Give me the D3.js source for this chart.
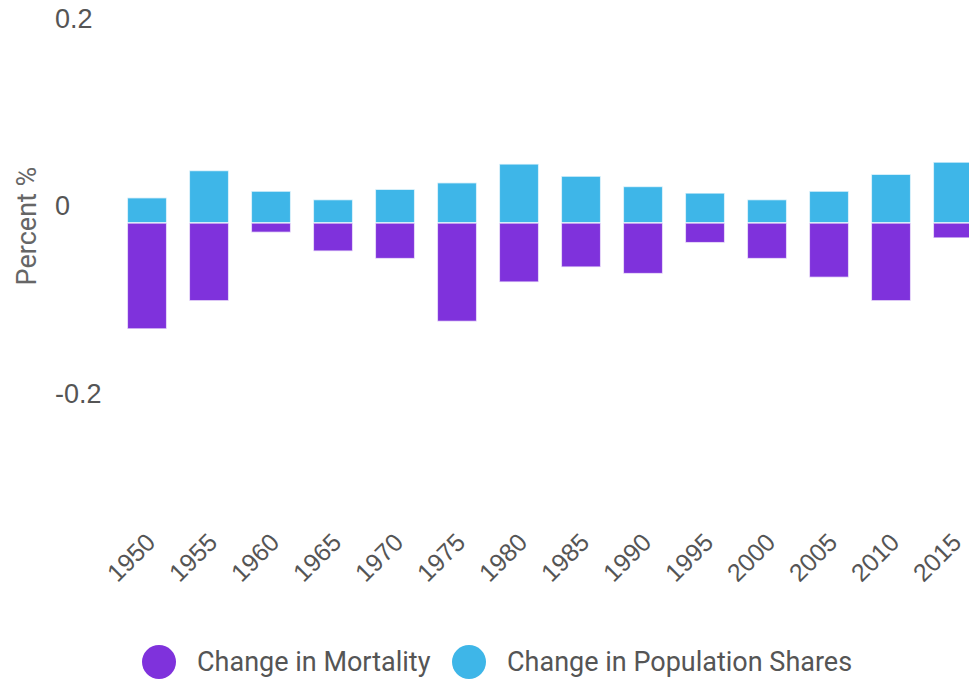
<!DOCTYPE html>
<html>
<head>
<meta charset="utf-8">
<script src="https://cdn.jsdelivr.net/npm/d3@7"></script>
<style>
  body { margin: 0; background: #fff; overflow: hidden; }
  svg { font-family: Roboto, sans-serif; }
</style>
</head>
<body>
<div id="chart"></div>
<script>
// data
var years = ["1950", "1955", "1960", "1965", "1970", "1975", "1980",
  "1985", "1990", "1995", "2000", "2005", "2010", "2015"]
var mortality = [-0.113, -0.083, -0.010, -0.030, -0.038, -0.105, -0.063,
  -0.047, -0.054, -0.021, -0.038, -0.058, -0.083, -0.016]
var popShares = [0.027, 0.056, 0.034, 0.025, 0.036, 0.043, 0.063,
  0.050, 0.039, 0.032, 0.025, 0.034, 0.052, 0.065]
var yTicks = [0.2, 0, -0.2]
var seriesNames = ["Change in Mortality", "Change in Population Shares"]
var colors = ["#7f32dc", "#3eb6e8"]

var width = 969, height = 680

var svg = d3.select("#chart").append("svg")
  .attr("width", width)
  .attr("height", height)

var x = d3.scaleBand()
  .domain(years)
  .range([116, 984])
  .paddingInner(0.365)
  .paddingOuter(0.1825)

var y = d3.scaleLinear()
  .domain([-0.2, 0.2])
  .range([410.5, 35.5])

// y axis labels (no line, labels sit above their tick)
var yAxis = svg.append("g")
  .attr("transform", "translate(55,0)")
  .call(d3.axisLeft(y).tickValues(yTicks).tickSize(0)
    .tickFormat(function(d) { return String(d) }))
yAxis.select(".domain").remove()
yAxis.selectAll("text")
  .attr("x", 0)
  .attr("dy", "-0.3em")
  .attr("text-anchor", "start")
  .attr("fill", "#555")
  .style("font-size", "27px")

svg.append("text")
  .attr("transform", "translate(36,226) rotate(-90)")
  .attr("text-anchor", "middle")
  .attr("fill", "#666")
  .style("font-size", "27px")
  .text("Percent %")

// bars
var rows = years.map(function(yr, i) {
  return { year: yr, m: mortality[i], p: popShares[i] }
})

svg.append("g").selectAll("rect")
  .data(rows)
  .enter().append("rect")
  .attr("x", function(d) { return x(d.year) })
  .attr("width", x.bandwidth())
  .attr("y", function(d) { return y(d.p) })
  .attr("height", function(d) { return y(0) - y(d.p) })
  .attr("fill", colors[1])
  .attr("stroke", "#fff")
  .attr("stroke-opacity", 0.7)
  .attr("stroke-width", 1.5)

svg.append("g").selectAll("rect")
  .data(rows)
  .enter().append("rect")
  .attr("x", function(d) { return x(d.year) })
  .attr("width", x.bandwidth())
  .attr("y", y(0))
  .attr("height", function(d) { return y(d.m) - y(0) })
  .attr("fill", colors[0])
  .attr("stroke", "#fff")
  .attr("stroke-opacity", 0.7)
  .attr("stroke-width", 1.5)

// x axis labels, rotated
var xAxis = svg.append("g")
  .attr("transform", "translate(0,530)")
  .call(d3.axisBottom(x).tickSize(0))
xAxis.select(".domain").remove()
xAxis.selectAll("text")
  .attr("text-anchor", "end")
  .attr("fill", "#555")
  .style("font-size", "25px")
  .attr("transform", "translate(-6,-2) rotate(-45)")
  .attr("dy", "0.9em")
  .attr("y", 0)

// legend
var legend = svg.append("g")
var lx = [159, 469]
seriesNames.forEach(function(name, i) {
  legend.append("circle")
    .attr("cx", lx[i])
    .attr("cy", 662)
    .attr("r", 17)
    .attr("fill", colors[i])
  legend.append("text")
    .attr("x", lx[i] + 38)
    .attr("y", 662)
    .attr("dy", "0.35em")
    .attr("fill", "#555")
    .style("font-size", "27px")
    .text(name)
})
</script>
</body>
</html>
